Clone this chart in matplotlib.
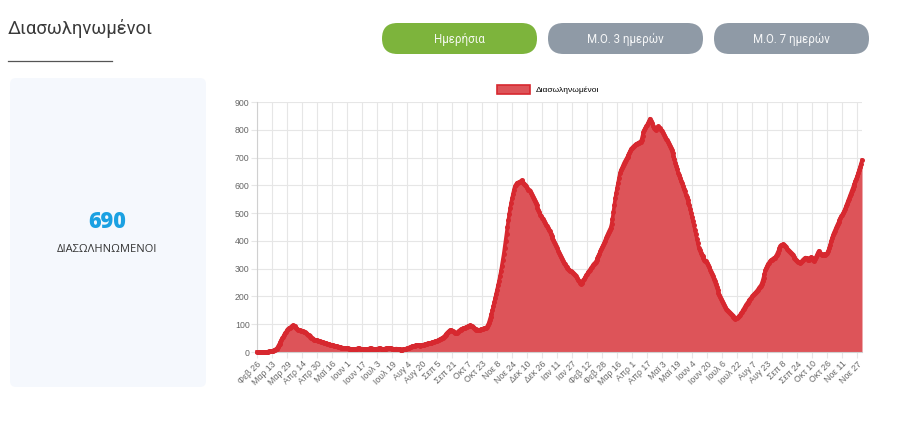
import numpy as np
import pandas as pd
import matplotlib
matplotlib.use('Agg')
import matplotlib.pyplot as plt
from matplotlib.patches import FancyBboxPatch, Patch

# Daily number of intubated patients, month by month
feb20 = [0, 0, 0, 0]
mar20 = [0, 0, 0, 0, 0, 0, 0, 1, 1, 2, 2, 3, 4, 5, 6, 8, 10, 12, 18, 24,
         30, 36, 42, 50, 55, 62, 68, 72, 78, 83, 85]
apr20 = [88, 90, 93, 96, 94, 92, 90, 86, 82, 80, 79, 78, 77, 76, 74, 72, 71, 69, 66, 63,
         60, 57, 54, 51, 49, 47, 45, 44, 43, 42]
may20 = [41, 40, 38, 37, 36, 35, 34, 33, 32, 31, 30, 29, 28, 27, 26, 25, 24, 23, 22, 21,
         20, 19, 18, 18, 17, 16, 16, 15, 15, 14, 14]
jun20 = [13, 13, 12, 12, 11, 11, 11, 10, 10, 11, 12, 12, 13, 13, 12, 12, 11, 11, 10, 10,
         10, 11, 11, 12, 12, 13, 13, 12, 12, 11]
jul20 = [11, 11, 12, 12, 13, 13, 12, 12, 11, 11, 12, 12, 13, 13, 14, 14, 13, 13, 12, 12,
         11, 11, 12, 12, 11, 10, 10, 9, 9, 9, 10]
aug20 = [10, 11, 12, 13, 14, 16, 17, 18, 20, 21, 22, 23, 24, 24, 25, 25, 24, 23, 24, 25,
         26, 27, 28, 29, 30, 31, 31, 32, 33, 34, 35]
sep20 = [36, 37, 38, 39, 40, 42, 44, 46, 48, 50, 52, 55, 58, 62, 66, 70, 73, 76, 78, 79,
         77, 74, 71, 69, 68, 70, 73, 76, 78, 80]
oct20 = [82, 84, 85, 87, 88, 90, 91, 93, 95, 96, 95, 93, 90, 87, 84, 82, 80, 79, 78, 79,
         80, 82, 83, 84, 85, 86, 88, 90, 96, 104, 115]
nov20 = [125, 138, 150, 165, 180, 195, 210, 225, 240, 255, 272, 290, 310, 330, 352, 376,
         400, 425, 450, 475, 498, 519, 538, 555, 570, 585, 596, 603, 608, 610]
dec20 = [611, 612, 615, 618, 614, 610, 606, 600, 596, 590, 585, 582, 578, 572, 566, 558,
         550, 543, 536, 528, 520, 512, 504, 495, 490, 484, 478, 470, 465, 458, 452]
jan21 = [446, 440, 434, 426, 418, 410, 402, 395, 388, 380, 373, 365, 358, 350, 343, 336,
         329, 322, 316, 310, 306, 302, 298, 295, 292, 290, 287, 284, 280, 276, 272]
feb21 = [266, 260, 255, 250, 246, 248, 252, 258, 264, 270, 276, 281, 287, 292, 297, 302,
         307, 312, 317, 320, 324, 330, 338, 346, 354, 362, 370, 377]
mar21 = [384, 392, 400, 410, 418, 426, 433, 440, 447, 460, 480, 505, 530, 554, 574, 592,
         610, 628, 645, 655, 661, 670, 678, 685, 691, 697, 703, 710, 718, 725, 732]
apr21 = [735, 739, 742, 745, 748, 750, 752, 754, 756, 757, 765, 778, 792, 800, 806, 812,
         818, 825, 832, 840, 833, 825, 815, 808, 802, 800, 805, 810, 812, 808]
may21 = [805, 800, 795, 788, 782, 775, 768, 762, 756, 750, 742, 735, 727, 716, 705, 694,
         682, 670, 658, 646, 636, 626, 617, 608, 598, 588, 578, 567, 558, 548, 538]
jun21 = [528, 515, 500, 486, 471, 456, 440, 424, 408, 392, 376, 366, 358, 350, 344, 338,
         333, 329, 326, 322, 315, 306, 297, 288, 280, 272, 263, 254, 244, 234]
jul21 = [224, 214, 205, 197, 190, 182, 175, 168, 162, 156, 151, 147, 144, 140, 136, 132,
         128, 125, 122, 120, 121, 123, 126, 130, 134, 139, 144, 150, 156, 162, 168]
aug21 = [173, 178, 183, 188, 192, 196, 200, 204, 208, 212, 216, 220, 225, 230, 235, 239,
         246, 256, 268, 282, 294, 303, 311, 318, 322, 326, 330, 333, 336, 338, 340]
sep21 = [344, 350, 358, 366, 373, 380, 384, 387, 388, 386, 382, 377, 372, 366, 364, 360,
         356, 352, 348, 343, 338, 334, 330, 327, 325, 323, 322, 324, 328, 332]
oct21 = [335, 338, 340, 337, 333, 330, 335, 340, 342, 338, 330, 328, 334, 342, 350, 358,
         364, 358, 352, 348, 350, 352, 350, 348, 352, 356, 364, 374, 386, 398, 410]
nov21 = [420, 429, 437, 445, 452, 460, 467, 474, 481, 488, 494, 500, 507, 516, 525, 534,
         543, 552, 561, 570, 578, 587, 596, 605, 614, 624, 634, 645, 656, 666]
dec21 = [678, 690]

intubated = (feb20 + mar20 + apr20 + may20 + jun20 + jul20 + aug20 + sep20 + oct20 +
             nov20 + dec20 + jan21 + feb21 + mar21 + apr21 + may21 + jun21 + jul21 +
             aug21 + sep21 + oct21 + nov21 + dec21)

greek_months = ['Ιαν', 'Φεβ', 'Μαρ', 'Απρ', 'Μαϊ', 'Ιουν', 'Ιουλ', 'Αυγ', 'Σεπ', 'Οκτ', 'Νοε', 'Δεκ']
dates = pd.date_range('2020-02-26', periods=len(intubated), freq='D')
day_labels = [f'{greek_months[d.month - 1]} {d.day}' for d in dates]

title = 'Διασωληνωμένοι'
series_name = 'Διασωληνωμένοι'
buttons = ['Ημερήσια', 'Μ.Ο. 3 ημερών', 'Μ.Ο. 7 ημερών']
big_label = 'ΔΙΑΣΩΛΗΝΩΜΕΝΟΙ'

line_color = '#d7282f'
fill_color = '#dd5459'
grid_color = '#e6e6e6'

fig = plt.figure(figsize=(9, 4.22), dpi=100)

# background layer in pixel coordinates (y down)
bg = fig.add_axes([0, 0, 1, 1])
bg.set_xlim(0, 900)
bg.set_ylim(422, 0)
bg.axis('off')

bg.text(8, 28, title, fontsize=13.2, family='Roboto', fontweight='normal',
        color='#3a3a3a', va='center', ha='left')
bg.plot([8, 112], [61, 61], color='#555555', lw=0.9)

# buttons
btn_x = [382, 548, 714]
btn_colors = ['#7db43c', '#8f9aa6', '#8f9aa6']
for bx, label, col in zip(btn_x, buttons, btn_colors):
    bg.add_patch(FancyBboxPatch((bx, 23), 155, 31,
                                boxstyle='round,pad=0,rounding_size=15.5',
                                fc=col, ec='none'))
    bg.text(bx + 77.5, 39, label, fontsize=8.3, family='Roboto',
            color='white', alpha=0.92, ha='center', va='center')

# left info panel
bg.add_patch(FancyBboxPatch((10, 78), 196, 309, boxstyle='round,pad=0,rounding_size=6',
                            fc='#f5f8fd', ec='none'))
bg.text(107, 222, str(intubated[-1]), fontsize=15.5, family='Open Sans', fontweight='heavy',
        color='#1ba1e2', ha='center', va='center')
bg.text(107, 249, big_label, fontsize=8, family='Open Sans', color='#333333',
        ha='center', va='center')

# the chart itself
ax = fig.add_axes([257 / 900, 70 / 422, 605 / 900, 250 / 422])
x = np.arange(len(intubated))
ax.fill_between(x, intubated, color=fill_color, lw=0, zorder=2)
ax.plot(x, intubated, color=line_color, lw=2.6, marker='o', ms=3.6, mew=0,
        zorder=3, clip_on=False)
ax.set_xlim(0, len(intubated) - 1)
ax.set_ylim(0, 900)
ax.set_yticks(range(0, 901, 100))
ax.set_xticks(x[::16])
ax.set_xticklabels(day_labels[::16], rotation=45, ha='right', rotation_mode='anchor')
ax.tick_params(axis='both', length=4.3, color=grid_color, labelcolor='#666666',
               labelsize=6.3, pad=1)
ax.grid(color=grid_color, lw=0.8)
ax.set_axisbelow(True)
for side in ['top', 'right']:
    ax.spines[side].set_visible(False)
for side in ['left', 'bottom']:
    ax.spines[side].set_color('#d0d0d0')
for lbl in ax.get_xticklabels() + ax.get_yticklabels():
    lbl.set_family('Liberation Sans')

handle = Patch(facecolor=fill_color, edgecolor=line_color, lw=1.2, label=series_name)
fig.legend(handles=[handle], loc='center', bbox_to_anchor=(548 / 900, (422 - 89.5) / 422),
           frameon=False, handlelength=4, handleheight=1.3,
           handletextpad=0.6, borderpad=0, prop={'family': 'Liberation Sans', 'size': 6})

fig.savefig('out.png', dpi=100)
